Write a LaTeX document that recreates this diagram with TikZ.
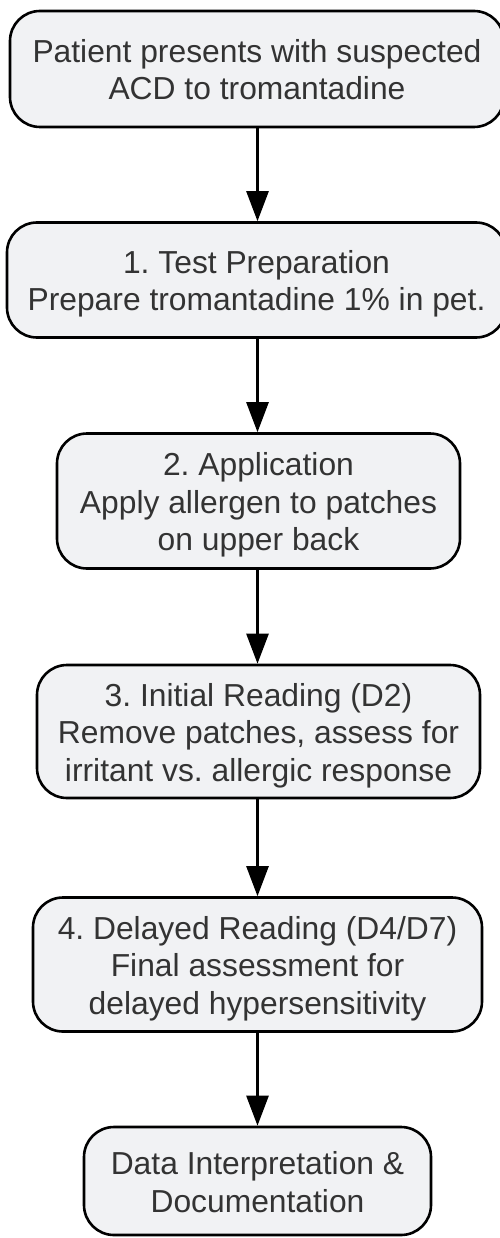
\documentclass[tikz,border=0pt]{standalone}
\usepackage{fontspec}
\setmainfont{Liberation Sans}
\usetikzlibrary{arrows.meta}
\definecolor{boxfill}{HTML}{F1F2F4}
\definecolor{txt}{HTML}{333333}
\frenchspacing
\newcommand\boxlines[1]{\begin{tabular}{@{}c@{}}\rule{0pt}{35.75pt}#1\end{tabular}}
\tikzset{
  stage/.style={draw=black, line width=2.6pt, fill=boxfill, rounded corners=30pt,
    text=txt, inner sep=0pt, font=\fontsize{31.8}{37.5}\selectfont},
  flow/.style={draw=black, line width=2.6pt, -{Triangle[length=30pt,width=22pt]}}
}
\begin{document}
\begin{tikzpicture}[x=1pt,y=-1pt]
\useasboundingbox (0,0) rectangle (500,1238);
\node[stage, minimum width=494pt, minimum height=116pt] (n1) at (257,69)
  {\boxlines{Patient presents with suspected\\ACD to tromantadine}};
\node[stage, minimum width=499pt, minimum height=115pt] (n2) at (256.5,280)
  {\boxlines{1. Test Preparation\\Prepare tromantadine 1\% in pet.}};
\node[stage, minimum width=403pt, minimum height=135pt] (n3) at (258.5,501)
  {\boxlines{2. Application\\Apply allergen to patches\\on upper back}};
\node[stage, minimum width=443pt, minimum height=133pt] (n4) at (258.5,731.5)
  {\boxlines{3. Initial Reading (D2)\\Remove patches, assess for\\irritant vs. allergic response}};
\node[stage, minimum width=449pt, minimum height=134pt] (n5) at (257.5,964.5)
  {\boxlines{4. Delayed Reading (D4/D7)\\Final assessment for\\delayed hypersensitivity}};
\node[stage, minimum width=347pt, minimum height=108pt] (n6) at (257.5,1181)
  {\boxlines{Data Interpretation \&\\Documentation}};
\coordinate (ax) at (257.5,0);
\draw[flow] (n1.south -| ax) -- (n2.north -| ax);
\draw[flow] (n2.south -| ax) -- (n3.north -| ax);
\draw[flow] (n3.south -| ax) -- (n4.north -| ax);
\draw[flow] (n4.south -| ax) -- (n5.north -| ax);
\draw[flow] (n5.south -| ax) -- (n6.north -| ax);
\end{tikzpicture}
\end{document}
